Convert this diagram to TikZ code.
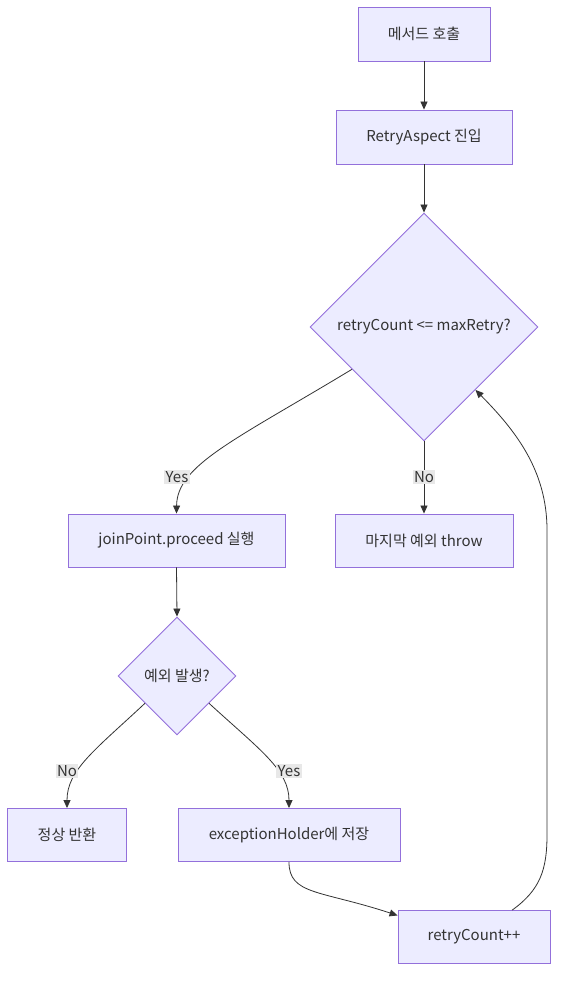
\documentclass[tikz,border=0pt]{standalone}
\usepackage{fontspec}
\setmainfont{Noto Sans CJK KR}
\usetikzlibrary{shapes.geometric,arrows.meta,calc}
\definecolor{boxfill}{HTML}{ECECFF}
\definecolor{boxline}{HTML}{9370DB}
\definecolor{txt}{HTML}{333333}
\definecolor{edge}{HTML}{333333}
\definecolor{lblbg}{HTML}{E8E8E8}
\tikzset{
  procbox/.style={draw=boxline, fill=boxfill, line width=0.9pt, text=txt, inner sep=0pt, font=\fontsize{15}{17}\selectfont},
  decide/.style={diamond, aspect=1, draw=boxline, fill=boxfill, line width=0.9pt, text=txt, inner sep=0pt, font=\fontsize{15}{17}\selectfont},
  flow/.style={draw=edge, line width=0.8pt, -{Triangle[length=8pt,width=7pt]}},
  lbl/.style={fill=lblbg, text=txt, inner sep=1.5pt, font=\fontsize{15}{17}\selectfont}
}
\begin{document}
\begin{tikzpicture}[x=1pt,y=-1pt]
\useasboundingbox[fill=white] (0,0) rectangle (567,986);
\node[procbox, minimum width=132pt, minimum height=54pt] (call) at (424,34) {메서드 호출};
\node[procbox, minimum width=176pt, minimum height=54pt] (enter) at (424,137) {RetryAspect 진입};
\node[decide, minimum width=228pt, minimum height=228pt] (check) at (424,327) {retryCount <= maxRetry?};
\node[procbox, minimum width=217pt, minimum height=53pt] (proceed) at (176.5,540.5) {joinPoint.proceed 실행};
\node[procbox, minimum width=178pt, minimum height=53pt] (throw) at (424,540.5) {마지막 예외 throw};
\node[decide, minimum width=118pt, minimum height=118pt] (exc) at (177,676) {예외 발생?};
\node[procbox, minimum width=119pt, minimum height=53pt] (ok) at (67,835) {정상 반환};
\node[procbox, minimum width=222pt, minimum height=53pt] (hold) at (289,835) {exceptionHolder에 저장};
\node[procbox, minimum width=152pt, minimum height=53pt] (inc) at (474,937) {retryCount++};

\draw[flow] (call.south) -- (enter.north);
\draw[flow] (enter.south) -- (check.north);
\draw[flow] ($(check.west)!0.37!(check.south)$) .. controls (235,440) and (177,465) .. (proceed.north);
\draw[flow] (check.south) -- (throw.north);
\draw[flow] (proceed.south) -- (exc.north);
\draw[flow] ($(exc.west)!0.46!(exc.south)$) .. controls (95,750) and (67,770) .. (ok.north);
\draw[flow] ($(exc.east)!0.46!(exc.south)$) .. controls (260,750) and (289,770) .. (hold.north);
\draw[flow] (hold.south) .. controls (289,895) and (320,890) .. ($(inc.north west)!0.1!(inc.south west)$);
\draw[flow] ($(inc.north)!0.5!(inc.north east)$) .. controls (540,890) and (547,870) .. (547,835) -- (547,530) .. controls (547,470) and (515,430) .. ($(check.east)!0.55!(check.south)$);

\node[lbl] (ly1) at (177,477) {Yes};
\node[lbl] (ln1) at (424,477) {No};
\node[lbl] (ln2) at (67,771) {No};
\node[lbl] (ly2) at (289,771) {Yes};
\end{tikzpicture}
\end{document}
